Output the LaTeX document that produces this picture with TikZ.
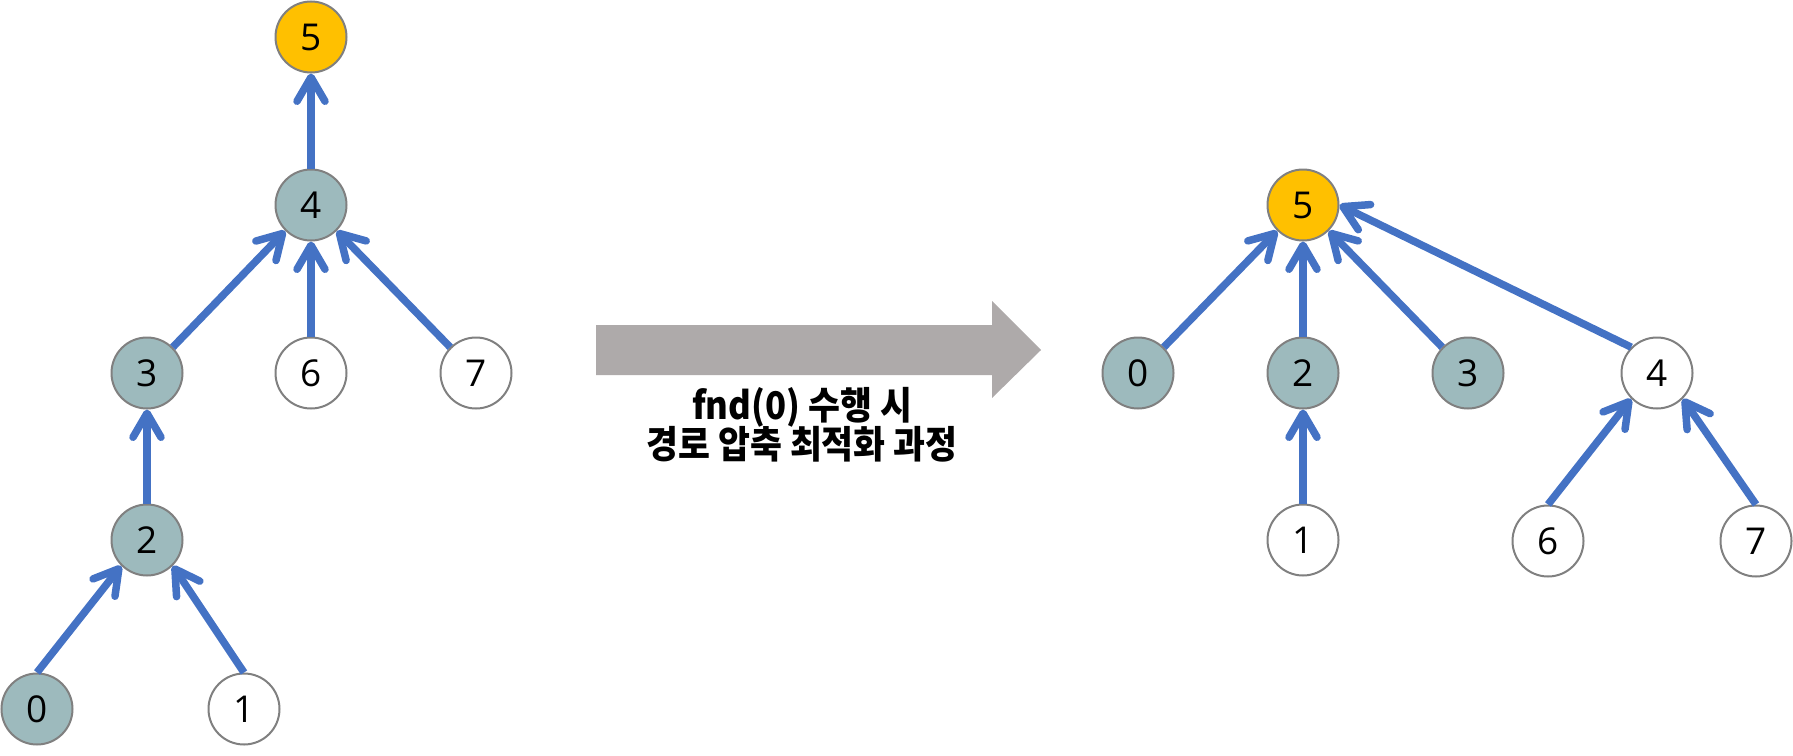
\documentclass[tikz,border=0pt]{standalone}
\usepackage{fontspec}
\setmainfont{Open Sans}
\newfontfamily\krfont{Noto Sans CJK KR}
\usetikzlibrary{arrows.meta}
\definecolor{tealgray}{HTML}{9DBABD}
\definecolor{gold}{HTML}{FFC000}
\definecolor{linkblue}{HTML}{4472C4}
\definecolor{ringgray}{HTML}{808080}
\definecolor{bigarrow}{HTML}{AEAAAA}
\tikzset{
  vtx/.style={circle, draw=ringgray, line width=2pt, minimum size=71pt, inner sep=0pt,
    font=\fontsize{37}{40}\selectfont, fill=white},
  visited/.style={vtx, fill=tealgray},
  rootv/.style={vtx, fill=gold},
  link/.style={draw=linkblue, line width=7.5pt,
    -{Straight Barb[length=24pt,width=28pt,round]}},
}
\begin{document}
\begin{tikzpicture}[x=1pt,y=-1pt]
\useasboundingbox (0,0) rectangle (1793,755);
% left tree
\node[rootv]   (L5) at (311,37)  {5};
\node[visited] (L4) at (311,205) {4};
\node[visited] (L3) at (147,373) {3};
\node[vtx]     (L6) at (311,373) {6};
\node[vtx]     (L7) at (476,373) {7};
\node[visited] (L2) at (147,540) {2};
\node[visited] (L0) at (37,709)  {0};
\node[vtx]     (L1) at (244,709) {1};
\draw[link] (L4.north) -- (L5.south);
\draw[link] (L3.north east) -- (L4.south west);
\draw[link] (L6.north) -- (L4.south);
\draw[link] (L7.north west) -- (L4.south east);
\draw[link] (L2.north) -- (L3.south);
\draw[link] (L0.north) -- (L2.south west);
\draw[link] (L1.north) -- (L2.south east);
% big arrow
\fill[bigarrow] (596,325) -- (992,325) -- (992,301) -- (1041,350) -- (992,398) -- (992,375) -- (596,375) -- cycle;
\node[inner sep=0pt] (cap) at (802,425) {\scalebox{1.02}[1.12]{\begin{tabular}{@{}c@{}}\krfont\bfseries\fontsize{34}{37}\selectfont fnd(0) 수행 시\\[-1pt]\krfont\bfseries\fontsize{34}{37}\selectfont 경로 압축 최적화 과정\end{tabular}}};
% right tree
\node[rootv]   (R5) at (1303,205) {5};
\node[visited] (R0) at (1138,373) {0};
\node[visited] (R2) at (1303,373) {2};
\node[visited] (R3) at (1468,373) {3};
\node[vtx]     (R4) at (1657,373) {4};
\node[vtx]     (R1) at (1303,540) {1};
\node[vtx]     (R6) at (1548,541) {6};
\node[vtx]     (R7) at (1756,541) {7};
\draw[link] (R0.north east) -- (R5.south west);
\draw[link] (R2.north) -- (R5.south);
\draw[link] (R3.north west) -- (R5.south east);
\draw[link] (R4.north west) -- (R5.east);
\draw[link] (R1.north) -- (R2.south);
\draw[link] (R6.north) -- (R4.south west);
\draw[link] (R7.north) -- (R4.south east);
\end{tikzpicture}
\end{document}
